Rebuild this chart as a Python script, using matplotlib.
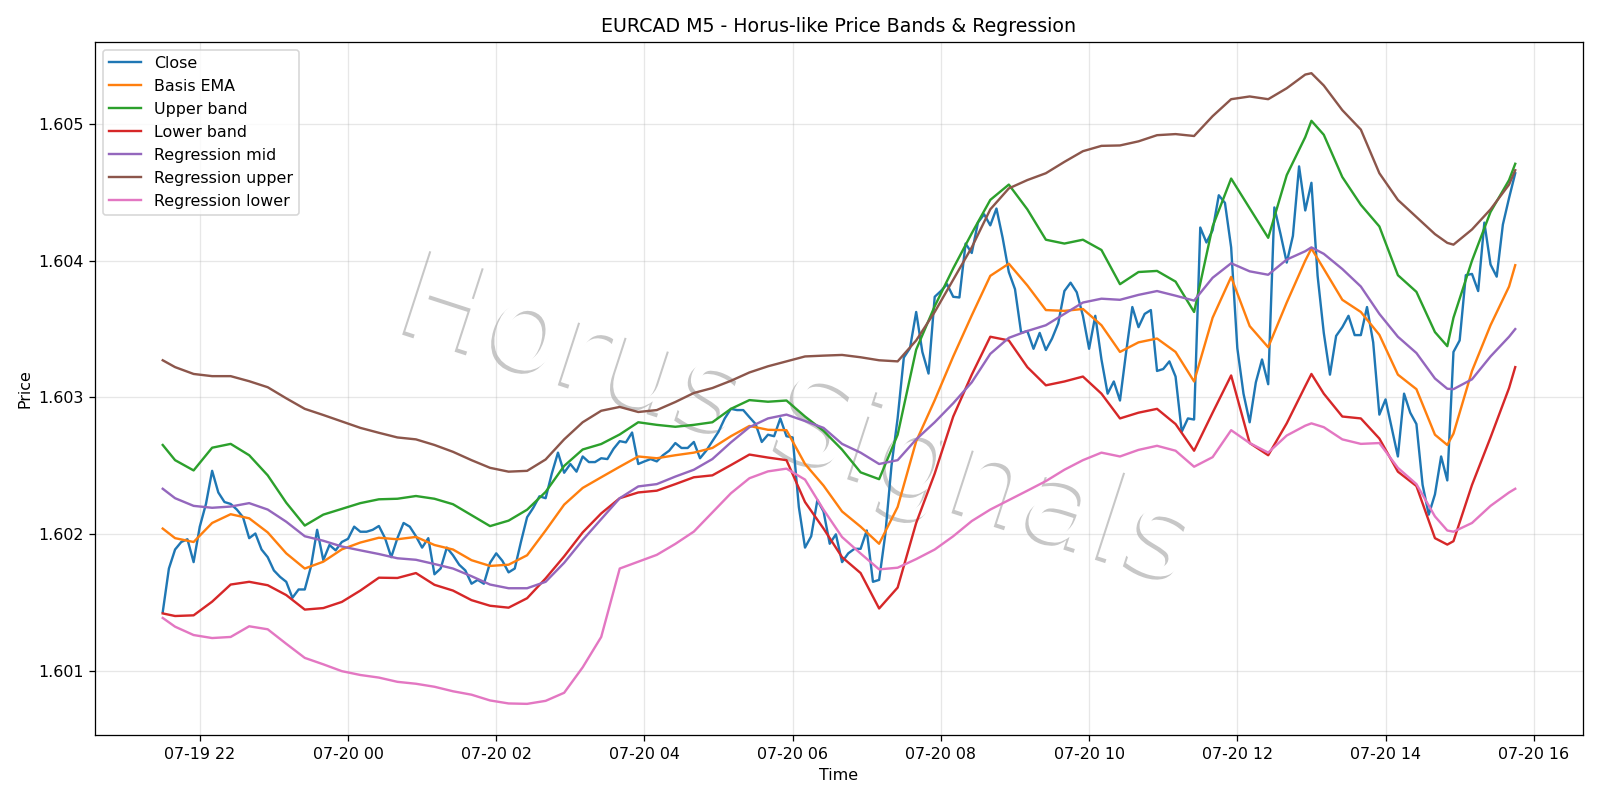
import numpy as np
import pandas as pd
import matplotlib
matplotlib.use("Agg")
import matplotlib.pyplot as plt
import matplotlib.dates as mdates
import matplotlib.patheffects as pe

# ---------------- data (prices expressed as pips above 1.6000) ----------------
BASE = 1.6
PIP = 1e-4
START = "2025-07-19 21:30"
N_BARS = 220

close_pips = [
    14.31, 17.5, 18.89, 19.44, 19.64, 17.97, 20.56, 22.22, 24.64, 23.06,
    22.36, 22.22, 21.81, 21.25, 19.72, 20.06, 18.89, 18.33, 17.36, 16.89,
    16.53, 15.36, 15.97, 15.97, 17.64, 20.33, 18.11, 19.22, 18.83, 19.44,
    19.67, 20.56, 20.19, 20.19, 20.33, 20.61, 19.72, 18.33, 19.72, 20.83,
    20.56, 19.86, 19.03, 19.72, 17.08, 17.5, 19.03, 18.47, 17.78, 17.36,
    16.39, 16.67, 16.39, 17.92, 18.61, 18.06, 17.22, 17.5, 19.44, 21.25,
    21.94, 22.78, 22.64, 24.44, 25.97, 24.5, 25.14, 24.58, 25.69, 25.28,
    25.28, 25.56, 25.5, 26.25, 26.81, 26.72, 27.44, 25.14, 25.33, 25.5,
    25.33, 25.78, 26.11, 26.67, 26.31, 26.31, 26.75, 25.56, 26.11, 26.81,
    27.5, 28.47, 29.17, 29.08, 29.08, 28.56, 28.06, 26.75, 27.28, 27.17,
    28.47, 27.17, 27.08, 22.0, 19.03, 19.86, 22.5, 21.67, 19.31, 20.0,
    17.97, 18.61, 18.94, 18.94, 20.28, 16.53, 16.67, 20.0, 25.0, 28.5,
    32.92, 33.61, 36.25, 33.33, 31.75, 37.36, 37.78, 38.28, 37.36, 37.31,
    41.25, 40.56, 42.78, 43.39, 42.58, 43.81, 41.67, 39.17, 37.92, 34.72,
    34.86, 33.56, 34.72, 33.47, 34.31, 35.42, 37.78, 38.39, 37.69, 35.97,
    33.56, 35.97, 32.78, 30.28, 31.17, 29.78, 33.33, 36.61, 35.14, 36.11,
    36.39, 31.94, 32.08, 32.64, 31.53, 27.5, 28.47, 28.39, 42.42, 41.33,
    42.22, 44.78, 44.22, 40.97, 33.61, 30.28, 28.19, 31.11, 32.78, 30.97,
    43.89, 41.94, 39.86, 41.81, 46.89, 43.67, 45.69, 38.89, 34.72, 31.67,
    34.5, 35.14, 35.97, 34.56, 34.56, 36.61, 34.03, 28.75, 29.86, 27.78,
    25.69, 30.28, 28.89, 28.06, 23.61, 21.44, 22.92, 25.69, 23.94, 33.33,
    34.17, 38.94, 39.03, 37.78, 42.78, 39.72, 38.83, 42.64, 44.58, 46.39,
]

smooth_idx = [
    0, 2, 5, 8, 11, 14, 17, 20, 23, 26, 29, 32, 35, 38, 41, 44, 47, 50, 53,
    56, 59, 62, 65, 68, 71, 74, 77, 80, 83, 86, 89, 92, 95, 98, 101, 104,
    107, 110, 113, 116, 119, 122, 125, 128, 131, 134, 137, 140, 143, 146,
    149, 152, 155, 158, 161, 164, 167, 170, 173, 176, 179, 182, 185, 186,
    188, 191, 194, 197, 200, 203, 206, 208, 209, 212, 215, 218, 219,
]

basis_pips = [
    20.42, 19.72, 19.44, 20.83, 21.47, 21.17, 20.14, 18.61, 17.5, 18.0,
    18.9, 19.4, 19.75, 19.64, 19.81, 19.22, 18.89, 18.11, 17.69, 17.78,
    18.47, 20.28, 22.17, 23.39, 24.17, 24.94, 25.69, 25.56, 25.78, 25.97,
    26.31, 27.17, 27.92, 27.64, 27.61, 25.14, 23.56, 21.67, 20.56, 19.31,
    22.0, 26.8, 29.8, 33.0, 36.0, 38.89, 39.78, 38.19, 36.39, 36.33,
    36.47, 35.28, 33.33, 34.03, 34.31, 33.33, 31.17, 35.83, 38.81, 35.22,
    33.67, 36.94, 40.0, 40.89, 39.4, 37.14, 36.25, 34.58, 31.67, 30.61,
    27.28, 26.53, 27.36, 31.94, 35.28, 38.11, 39.67,
]

upper_pips = [
    26.53, 25.42, 24.67, 26.33, 26.61, 25.78, 24.31, 22.31, 20.64, 21.44,
    21.86, 22.28, 22.56, 22.6, 22.8, 22.6, 22.2, 21.4, 20.6, 21.0,
    21.8, 23.1, 25.0, 26.2, 26.6, 27.3, 28.19, 28.0, 27.86, 28.0,
    28.19, 29.17, 29.81, 29.69, 29.78, 28.61, 27.56, 26.19, 24.53, 24.03,
    27.28, 33.5, 36.67, 39.44, 42.0, 44.44, 45.56, 43.75, 41.53, 41.25,
    41.53, 40.78, 38.28, 39.17, 39.25, 38.47, 36.25, 42.5, 46.0, 43.83,
    41.67, 46.25, 49.03, 50.22, 49.2, 46.11, 44.08, 42.5, 38.94, 37.72,
    34.78, 33.75, 35.83, 40.0, 43.56, 45.89, 47.08,
]

lower_pips = [
    14.22, 14.03, 14.08, 15.08, 16.33, 16.53, 16.28, 15.56, 14.5, 14.61,
    15.06, 15.89, 16.83, 16.81, 17.17, 16.31, 15.89, 15.19, 14.78, 14.64,
    15.33, 16.78, 18.39, 20.14, 21.53, 22.64, 23.06, 23.19, 23.67, 24.17,
    24.31, 25.06, 25.83, 25.61, 25.42, 22.36, 20.42, 18.33, 17.17, 14.58,
    16.11, 20.83, 24.44, 28.61, 31.67, 34.44, 34.17, 32.22, 30.89, 31.17,
    31.53, 30.28, 28.47, 28.89, 29.17, 28.06, 26.11, 28.89, 31.61, 26.67,
    25.78, 28.11, 30.83, 31.72, 30.28, 28.61, 28.47, 27.0, 24.58, 23.53,
    19.72, 19.25, 19.5, 23.61, 27.08, 30.69, 32.22,
]

reg_mid_pips = [
    23.33, 22.64, 22.08, 21.94, 22.03, 22.28, 21.81, 20.92, 19.86, 19.53,
    19.11, 18.83, 18.56, 18.25, 18.14, 17.83, 17.5, 16.94, 16.33, 16.06,
    16.06, 16.53, 17.92, 19.58, 21.11, 22.64, 23.5, 23.67, 24.22, 24.72,
    25.5, 26.72, 27.83, 28.47, 28.75, 28.28, 27.78, 26.61, 25.97, 25.14,
    25.42, 26.94, 28.19, 29.58, 31.11, 33.19, 34.36, 34.86, 35.28, 36.11,
    36.94, 37.22, 37.14, 37.5, 37.78, 37.44, 37.08, 38.75, 39.81, 39.22,
    38.97, 40.08, 40.69, 40.97, 40.5, 39.39, 38.11, 36.11, 34.44, 33.25,
    31.39, 30.64, 30.61, 31.33, 33.0, 34.44, 35.0,
]

reg_upper_pips = [
    32.72, 32.22, 31.72, 31.56, 31.56, 31.19, 30.75, 29.94, 29.17, 28.72,
    28.25, 27.78, 27.42, 27.08, 26.94, 26.53, 26.03, 25.42, 24.86, 24.58,
    24.64, 25.47, 26.94, 28.19, 29.03, 29.31, 28.94, 29.08, 29.67, 30.33,
    30.69, 31.22, 31.83, 32.28, 32.64, 33.0, 33.06, 33.11, 32.94, 32.72,
    32.64, 34.17, 36.25, 38.61, 40.97, 43.75, 45.28, 45.89, 46.39, 47.22,
    48.0, 48.39, 48.42, 48.72, 49.17, 49.25, 49.11, 50.56, 51.8, 52.0,
    51.8, 52.6, 53.6, 53.7, 52.8, 51.0, 49.58, 46.39, 44.44, 43.19,
    41.94, 41.3, 41.17, 42.28, 43.75, 45.56, 46.61,
]

reg_lower_pips = [
    13.89, 13.25, 12.64, 12.42, 12.5, 13.28, 13.06, 12.0, 10.97, 10.5,
    10.0, 9.72, 9.53, 9.22, 9.08, 8.86, 8.53, 8.28, 7.86, 7.64,
    7.61, 7.83, 8.42, 10.28, 12.5, 17.5, 18.0, 18.5, 19.3, 20.2,
    21.6, 23.0, 24.1, 24.6, 24.8, 24.0, 21.8, 19.8, 18.6, 17.44,
    17.56, 18.19, 18.89, 19.86, 20.97, 21.81, 22.5, 23.19, 23.89, 24.72,
    25.42, 25.97, 25.69, 26.17, 26.47, 26.11, 24.94, 25.64, 27.61, 26.67,
    25.97, 27.22, 27.94, 28.11, 27.83, 26.94, 26.61, 26.67, 24.86, 23.67,
    21.31, 20.28, 20.19, 20.83, 22.08, 23.06, 23.33,
]

# ---------------- build series ----------------
times = pd.date_range(START, periods=N_BARS, freq="5min")
t_smooth = times[smooth_idx]

def price(p):
    return BASE + np.asarray(p) * PIP

series = [
    ("Close", times, price(close_pips)),
    ("Basis EMA", t_smooth, price(basis_pips)),
    ("Upper band", t_smooth, price(upper_pips)),
    ("Lower band", t_smooth, price(lower_pips)),
    ("Regression mid", t_smooth, price(reg_mid_pips)),
    ("Regression upper", t_smooth, price(reg_upper_pips)),
    ("Regression lower", t_smooth, price(reg_lower_pips)),
]

fig, ax = plt.subplots(figsize=(14, 7), dpi=1600 / 14)
for label, t, y in series:
    ax.plot(t, y, label=label, linewidth=1.5, zorder=3)

ax.set_title("EURCAD M5 - Horus-like Price Bands & Regression")
ax.set_xlabel("Time")
ax.set_ylabel("Price")
ax.grid(True, alpha=0.3)
ax.legend(loc="upper left")
ax.xaxis.set_major_locator(mdates.HourLocator(interval=2))
ax.xaxis.set_major_formatter(mdates.DateFormatter("%m-%d %H"))
ax.set_yticks([1.601, 1.602, 1.603, 1.604, 1.605])
ax.yaxis.set_major_formatter(matplotlib.ticker.FormatStrFormatter("%.3f"))

# watermark: white letters with a soft grey drop shadow, behind the data
ax.text(0.498, 0.47, "Horus Signals", transform=fig.transFigure,
        fontsize=76, rotation=-18, ha="center", va="center",
        color="white", zorder=0.5,
        path_effects=[pe.SimplePatchShadow(offset=(-2.0, -2.0),
                                           shadow_rgbFace=(0.45, 0.45, 0.45),
                                           alpha=0.4),
                      pe.Normal()])

fig.tight_layout()
fig.savefig("out.png", dpi=1600 / 14)
